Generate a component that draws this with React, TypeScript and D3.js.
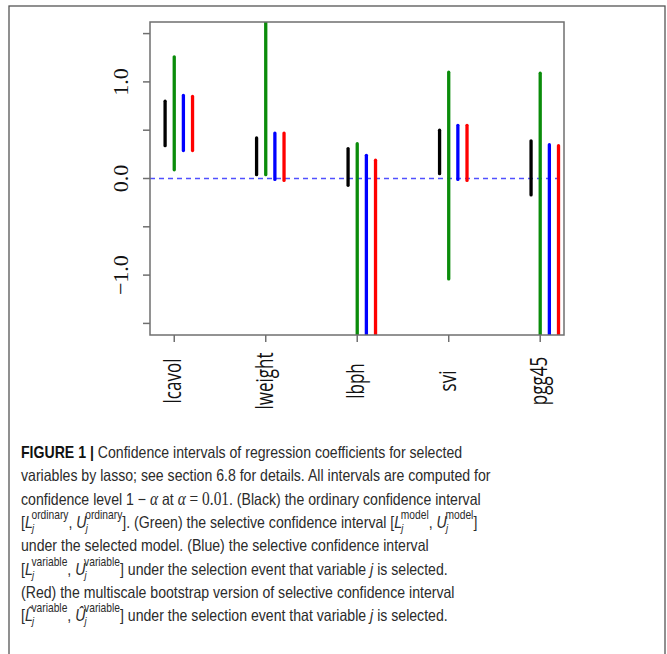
import { useLayoutEffect, useRef, useState } from "react";
import { scaleLinear } from "d3";

const variables = ["lcavol", "lweight", "lbph", "svi", "pgg45"];

// interval ends; values past the plot edges are clipped
const ordinaryLower = [0.34, 0.04, -0.07, 0.05, -0.17];
const ordinaryUpper = [0.8, 0.42, 0.31, 0.5, 0.39];
const modelLower = [0.09, 0.04, -2.6, -1.04, -2.8];
const modelUpper = [1.26, 2.2, 0.36, 1.1, 1.09];
const variableLower = [0.29, -0.01, -2.9, -0.01, -3.0];
const variableUpper = [0.86, 0.47, 0.24, 0.55, 0.35];
const bootLower = [0.29, -0.02, -2.9, -0.02, -3.0];
const bootUpper = [0.85, 0.47, 0.19, 0.55, 0.34];

const yTicks = [-1.5, -1, -0.5, 0, 0.5, 1, 1.5];
const yLabels = ["−1.0", "0.0", "1.0"];
const yLabelValues = [-1, 0, 1];

const series = [
  { lower: ordinaryLower, upper: ordinaryUpper, color: "#000000", offset: -0.1 },
  { lower: modelLower, upper: modelUpper, color: "#0a8c0a", offset: 0 },
  { lower: variableLower, upper: variableUpper, color: "#0000ff", offset: 0.1 },
  { lower: bootLower, upper: bootUpper, color: "#ff0000", offset: 0.2 },
];

const plot = { left: 150, right: 564, top: 22, bottom: 335 };

const x = scaleLinear().domain([0.735, 5.26]).range([plot.left, plot.right]);
const y = scaleLinear().domain([-1.62, 1.62]).range([plot.bottom, plot.top]);

const axisGray = "#6f6f6f";
const capFont = '"Liberation Sans", Arial, sans-serif';

function Interval({ hat, sup }: { hat?: boolean; sup: string }) {
  const letter = (c: string) => (hat ? c + "\u0302" : c);
  return (
    <>
      <tspan>[</tspan>
      <tspan fontStyle="italic">{letter("L")}</tspan>
      <tspan fontStyle="italic" fontSize={11} dy={4} dx={-1}>
        j
      </tspan>
      <tspan fontSize={12} dx={-3} dy={-13}>
        {sup}
      </tspan>
      <tspan dy={9}>, </tspan>
      <tspan fontStyle="italic">{letter("U")}</tspan>
      <tspan fontStyle="italic" fontSize={11} dy={4} dx={-1}>
        j
      </tspan>
      <tspan fontSize={12} dx={-3} dy={-13}>
        {sup}
      </tspan>
      <tspan dy={9}>]</tspan>
    </>
  );
}

export default function App() {
  const line1 = useRef<SVGTextElement>(null);
  const [sx, setSx] = useState(0.82);

  useLayoutEffect(() => {
    if (!line1.current) return;
    const w = line1.current.getBBox().width;
    if (w > 0) setSx(441 / w);
  }, []);

  const lineY = [458, 481.3, 504.6, 528, 551.3, 574.6, 598, 621.3];

  return (
    <svg
      width={667}
      height={654}
      style={{ position: "absolute", left: 0, top: 0, background: "white" }}
    >
      <defs>
        <clipPath id="plotClip">
          <rect
            x={plot.left}
            y={plot.top}
            width={plot.right - plot.left}
            height={plot.bottom - plot.top}
          />
        </clipPath>
      </defs>

      <rect x={9} y={6} width={656} height={700} fill="none" stroke="#555" strokeWidth={1.3} />

      {/* zero line */}
      <line
        x1={plot.left}
        x2={plot.right}
        y1={y(0)}
        y2={y(0)}
        stroke="#5050ff"
        strokeWidth={1.3}
        strokeDasharray="5,4"
      />

      <g clipPath="url(#plotClip)">
        {series.map((s, si) =>
          variables.map((v, i) => (
            <line
              key={`${si}-${v}`}
              x1={x(i + 1 + s.offset)}
              x2={x(i + 1 + s.offset)}
              y1={y(s.lower[i])}
              y2={y(s.upper[i])}
              stroke={s.color}
              strokeWidth={3.3}
              strokeLinecap="round"
            />
          ))
        )}
      </g>

      <rect
        x={plot.left}
        y={plot.top}
        width={plot.right - plot.left}
        height={plot.bottom - plot.top}
        fill="none"
        stroke={axisGray}
        strokeWidth={1.5}
      />

      {/* y axis */}
      {yTicks.map((t) => (
        <line key={t} x1={plot.left - 7} x2={plot.left} y1={y(t)} y2={y(t)} stroke={axisGray} strokeWidth={1.5} />
      ))}
      {yLabels.map((l, i) => (
        <text
          key={l}
          transform={`translate(128, ${y(yLabelValues[i])}) rotate(-90)`}
          textAnchor="middle"
          fontFamily='"Liberation Serif", "Times New Roman", serif'
          fontSize={22}
          fill="#111"
        >
          {l}
        </text>
      ))}

      {/* x axis */}
      {variables.map((v, i) => (
        <g key={v}>
          <line x1={x(i + 1)} x2={x(i + 1)} y1={plot.bottom} y2={plot.bottom + 7} stroke={axisGray} strokeWidth={1.5} />
          <text
            transform={`translate(${x(i + 1) + 7}, 381) rotate(-90) scale(0.74, 1)`}
            textAnchor="middle"
            fontFamily='"Open Sans", sans-serif'
            fontSize={23}
            fill="#111"
          >
            {v}
          </text>
        </g>
      ))}

      {/* caption */}
      <g transform={`translate(21, 0) scale(${sx}, 1)`} fontFamily={capFont} fontSize={16.5} fill="#2b2b2b">
        <text ref={line1} y={lineY[0]}>
          <tspan fontWeight={700} fill="#111">FIGURE 1 |</tspan> Confidence intervals of regression coefficients for selected
        </text>
        <text y={lineY[1]}>variables by lasso; see section 6.8 for details. All intervals are computed for</text>
        <text y={lineY[2]}>
          confidence level 1 − <tspan fontFamily='"Liberation Serif", serif' fontStyle="italic" fontSize={18}>α</tspan> at{" "}
          <tspan fontFamily='"Liberation Serif", serif' fontStyle="italic" fontSize={18}>α</tspan>
          <tspan fontFamily='"Liberation Serif", serif' fontSize={18}> = 0.01</tspan>. (Black) the ordinary confidence interval
        </text>
        <text y={lineY[3]}>
          <Interval sup="ordinary" />
          <tspan>. (Green) the selective confidence interval </tspan>
          <Interval sup="model" />
        </text>
        <text y={lineY[4]}>under the selected model. (Blue) the selective confidence interval</text>
        <text y={lineY[5]}>
          <Interval sup="variable" />
          <tspan> under the selection event that variable </tspan>
          <tspan fontStyle="italic">j</tspan>
          <tspan> is selected.</tspan>
        </text>
        <text y={lineY[6]}>(Red) the multiscale bootstrap version of selective confidence interval</text>
        <text y={lineY[7]}>
          <Interval hat sup="variable" />
          <tspan> under the selection event that variable </tspan>
          <tspan fontStyle="italic">j</tspan>
          <tspan> is selected.</tspan>
        </text>
      </g>
    </svg>
  );
}
